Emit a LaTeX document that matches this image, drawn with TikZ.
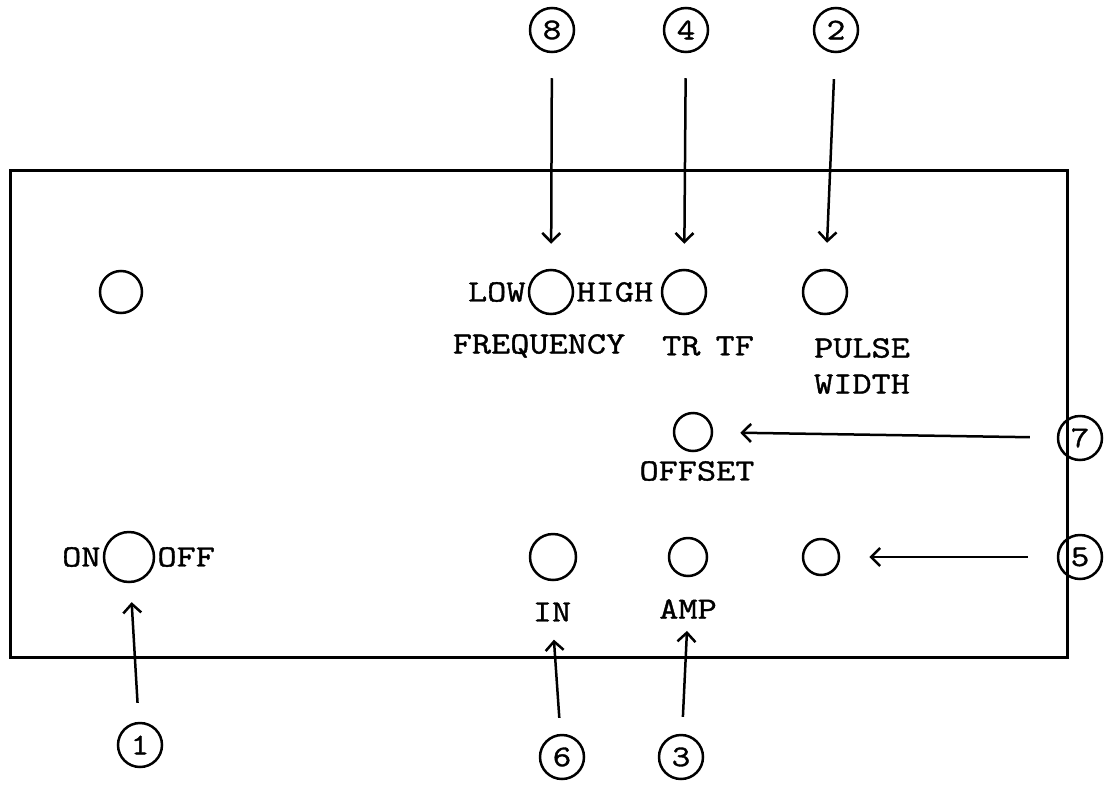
\documentclass[tikz,border=0pt]{standalone}
\usepackage{fontspec}
\setmonofont{Latin Modern Mono}[FakeStretch=1.2,FakeBold=1.2]
\usepackage{tikz}
\usetikzlibrary{arrows.meta,positioning}

\begin{document}
\begin{tikzpicture}[
    x=1pt,y=-1pt,
    line width=2.5pt,
    >={Straight Barb[length=9pt,width=18pt]},
    knob/.style={circle,draw,inner sep=0pt,minimum size=#1},
    knob/.default=44pt,
    tag/.style={circle,draw,inner sep=0pt,minimum size=44pt,font=\ttfamily\fontsize{30}{32}\selectfont},
    lbl/.style={inner sep=1pt,font=\ttfamily\fontsize{31}{36}\selectfont},
    pointer/.style={->,shorten <=#1,shorten >=#1},
]
\useasboundingbox (0,0) rectangle (1110,784);

% front panel
\draw[line width=3pt] (10,170) rectangle (1067,657);

% knobs
\node[knob=42pt] (kAux) at (121,292) {};
\node[knob] (kFreq) at (551,292) {};
\node[knob] (kTr) at (684,292) {};
\node[knob] (kWidth) at (825,292) {};
\node[knob=38pt] (kOffset) at (693,432) {};
\node[knob=50pt] (kPower) at (129,557) {};
\node[knob=46pt] (kIn) at (553,557) {};
\node[knob=38pt] (kAmp) at (688,557) {};
\node[knob=36pt] (kOut) at (821,557) {};

% panel lettering
\node[lbl,left=0pt of kFreq] (lLow) {LOW};
\node[lbl,right=0pt of kFreq] (lHigh) {HIGH};
\node[lbl] (lFreq) at (539,346) {FREQUENCY};
\node[lbl] (lTr) at (708,346) {TR\hspace{-4pt} TF};
\node[lbl,align=center] (lWidth) at (862,366) {PULSE\\WIDTH};
\node[lbl] (lOffset) at (697,471) {OFFSET};
\node[lbl,left=0pt of kPower] (lOn) {ON};
\node[lbl,right=0pt of kPower] (lOff) {OFF};
\node[lbl] (lIn) at (552,612) {IN};
\node[lbl] (lAmp) at (688,609) {AMP};

% numbered callouts
\node[tag] (c8) at (552,30) {8};
\node[tag] (c4) at (686,30) {4};
\node[tag] (c2) at (836,30) {2};
\node[tag] (c7) at (1080,438) {7};
\node[tag] (c5) at (1080,557) {5};
\node[tag] (c1) at (140,745) {1};
\node[tag] (c6) at (562,757) {6};
\node[tag] (c3) at (681,757) {3};

\draw[pointer=25pt] (c8) -- (kFreq);
\draw[pointer=25pt] (c4) -- (kTr);
\draw[pointer=26pt] (c2) -- (kWidth);
\draw[pointer=27pt] (c7) -- (kOffset);
\draw[pointer=29pt] (c5) -- (kOut);
\draw[pointer=19pt] (c1) -- (kPower);
\draw[pointer=16pt] (c6) -- (lIn);
\draw[->,shorten <=17pt,shorten >=10pt] (c3) -- (lAmp);
\end{tikzpicture}
\end{document}
